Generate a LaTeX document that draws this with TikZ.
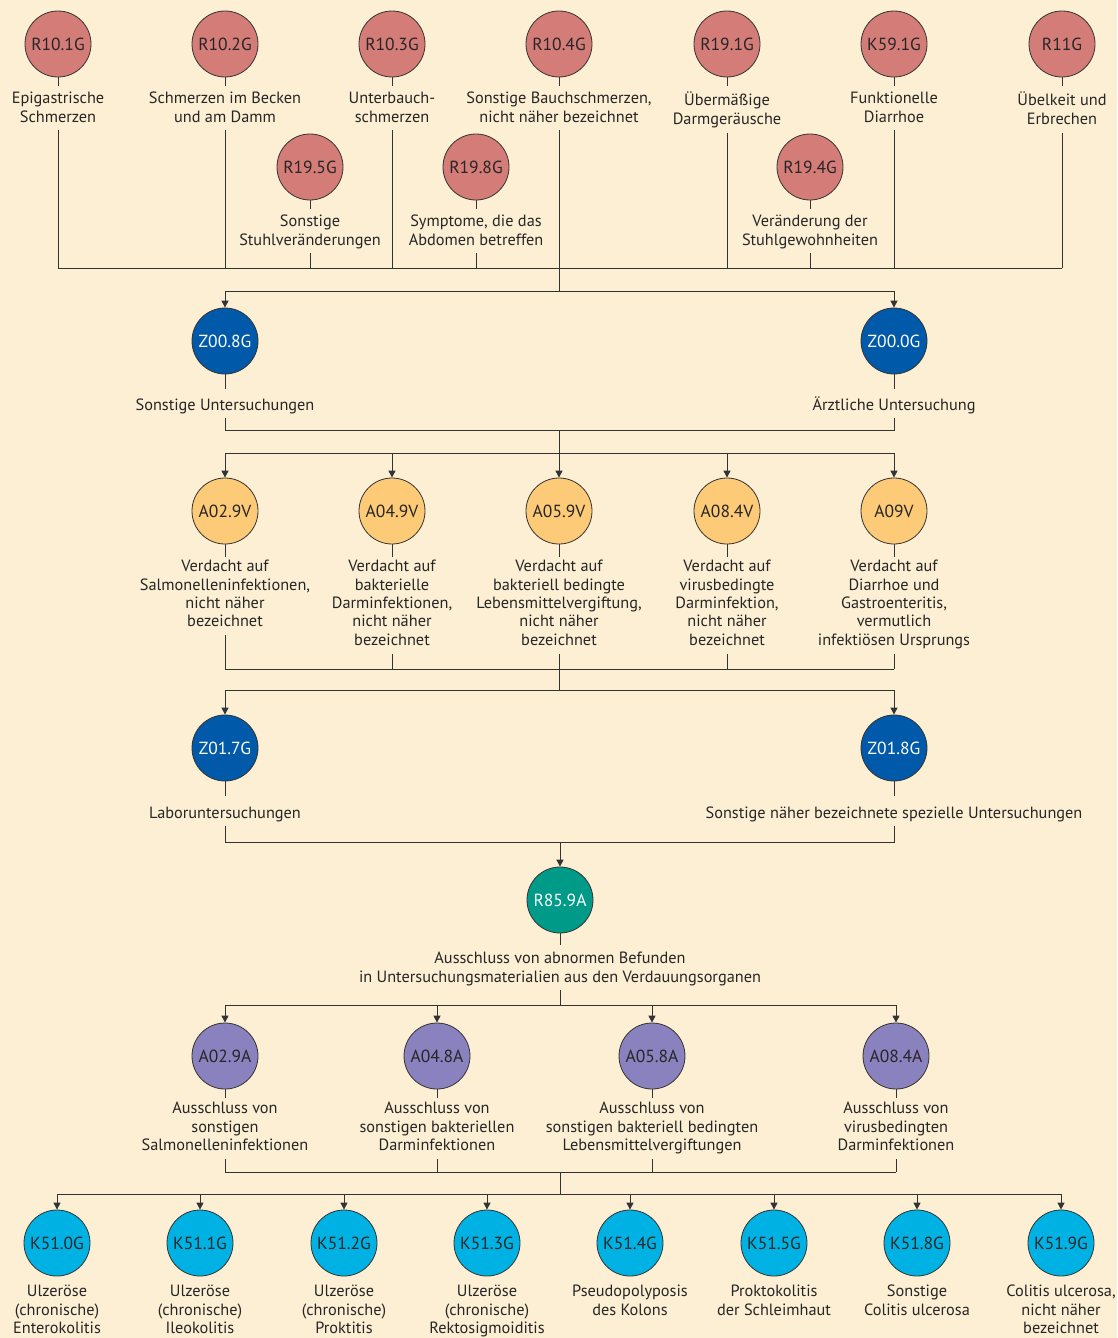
\documentclass[tikz,border=0pt]{standalone}
\usepackage{fontspec}
\setmainfont{PT Sans}
\usetikzlibrary{arrows.meta}
\definecolor{bg}{HTML}{FDEFD3}
\definecolor{linec}{HTML}{333333}
\definecolor{txt}{HTML}{262626}
\definecolor{cred}{HTML}{D47C78}
\definecolor{cblue}{HTML}{005AA9}
\definecolor{cyel}{HTML}{FDCA78}
\definecolor{cteal}{HTML}{009A88}
\definecolor{cpurp}{HTML}{8982BE}
\definecolor{ccyan}{HTML}{00B2E3}
\newcommand{\labfont}{\fontsize{16.3}{18.4}\selectfont}
\newcommand{\codefont}{\fontsize{17.5}{20}\selectfont}
\newcommand{\topstrut}{\rule{0pt}{16pt}}
\begin{document}
\begin{tikzpicture}[x=1pt,y=-1pt,
  code/.style={circle, draw=linec, line width=0.8pt, minimum size=66pt, inner sep=0pt, font=\codefont, text=txt},
  cR/.style={code, fill=cred},
  cB/.style={code, fill=cblue, text=white},
  cY/.style={code, fill=cyel},
  cT/.style={code, fill=cteal, text=white},
  cP/.style={code, fill=cpurp},
  cC/.style={code, fill=ccyan},
  lab/.style={align=center, anchor=north, inner xsep=0pt, inner ysep=2.5pt, font=\labfont, text=txt,
    execute at begin node=\topstrut, execute at end node=\strut},
  conn/.style={draw=linec, line width=1pt},
  arr/.style={conn, -{Triangle[width=7pt,length=7pt]}},
]
\fill[bg] (0,0) rectangle (1117,1338);
\useasboundingbox (0,0) rectangle (1117,1338);

% bus coordinates
\coordinate (b1) at (0,268);
\coordinate (b2) at (0,291);
\coordinate (b3) at (0,430);
\coordinate (b4) at (0,453);
\coordinate (b5) at (0,669);
\coordinate (b6) at (0,690);
\coordinate (b7) at (0,842);
\coordinate (b8) at (0,1005);
\coordinate (b9) at (0,1172);
\coordinate (b10) at (0,1194);

% ---------- row 1 ----------
\foreach \n/\x/\c/\t in {
  r1/58/R10.1G/{Epigastrische\\Schmerzen},
  r2/225/R10.2G/{Schmerzen im Becken\\und am Damm},
  r3/392/R10.3G/{Unterbauch-\\schmerzen},
  r4/559/R10.4G/{Sonstige Bauchschmerzen,\\nicht näher bezeichnet},
  r5/727/R19.1G/{Übermäßige\\Darmgeräusche},
  r6/894/K59.1G/{Funktionelle\\Diarrhoe},
  r7/1062/R11G/{Übelkeit und\\Erbrechen}}{
  \node[cR] (\n) at (\x,44) {\c};
  \node[lab] (\n l) at (\x,89.5) {\t};
  \draw[conn] (\n.south) -- ++(0,9);
}
\foreach \n/\x/\c/\t in {
  s1/310/R19.5G/{Sonstige\\Stuhlveränderungen},
  s2/476/R19.8G/{Symptome, die das\\Abdomen betreffen},
  s3/810/R19.4G/{Veränderung der\\Stuhlgewohnheiten}}{
  \node[cR] (\n) at (\x,167) {\c};
  \node[lab] (\n l) at (\x,212.5) {\t};
  \draw[conn] (\n.south) -- ++(0,9);
  \draw[conn] (\n l.south) -- (\n l.south |- b1);
}
\foreach \n in {r1,r2,r3,r5,r6,r7}{
  \draw[conn] (\n l.south) -- (\n l.south |- b1);
}
\draw[conn] (r1l.south |- b1) -- (r7l.south |- b1);
\draw[conn] (r4l.south) -- (r4l.south |- b2);

% ---------- Z00 ----------
\node[cB] (z1) at (225,341) {Z00.8G};
\node[cB] (z2) at (894,341) {Z00.0G};
\node[lab] (z1l) at (225,391.5) {Sonstige Untersuchungen};
\node[lab] (z2l) at (894,391.5) {Ärztliche Untersuchung};
\draw[conn] (z1 |- b2) -- (z2 |- b2);
\draw[arr] (z1 |- b2) -- (z1.north);
\draw[arr] (z2 |- b2) -- (z2.north);
\draw[conn] (z1.south) -- ++(0,15);
\draw[conn] (z2.south) -- ++(0,15);
\draw[conn] (z1l.south) -- (z1l.south |- b3) -- (z2l.south |- b3) -- (z2l.south);
\draw[conn] (r4l.south |- b3) -- (r4l.south |- b4);

% ---------- A..V ----------
\foreach \n/\x/\c/\t in {
  a1/225/A02.9V/{Verdacht auf\\Salmonelleninfektionen,\\nicht näher\\bezeichnet},
  a2/392/A04.9V/{Verdacht auf\\bakterielle\\Darminfektionen,\\nicht näher\\bezeichnet},
  a3/559/A05.9V/{Verdacht auf\\bakteriell bedingte\\Lebensmittelvergiftung,\\nicht näher\\bezeichnet},
  a4/727/A08.4V/{Verdacht auf\\virusbedingte\\Darminfektion,\\nicht näher\\bezeichnet},
  a5/894/A09V/{Verdacht auf\\Diarrhoe und\\Gastroenteritis,\\vermutlich\\infektiösen Ursprungs}}{
  \node[cY] (\n) at (\x,511) {\c};
  \node[lab] (\n l) at (\x,557.5) {\t};
  \draw[arr] (\n |- b4) -- (\n.north);
  \draw[conn] (\n.south) -- ++(0,13);
  \draw[conn] (\n l.south) -- (\n l.south |- b5);
}
\draw[conn] (a1 |- b4) -- (a5 |- b4);
\draw[conn] (a1 |- b5) -- (a5 |- b5);
\draw[conn] (a3 |- b5) -- (a3 |- b6);

% ---------- Z01 ----------
\node[cB] (y1) at (225,748) {Z01.7G};
\node[cB] (y2) at (894,748) {Z01.8G};
\node[lab] (y1l) at (225,799.5) {Laboruntersuchungen};
\node[lab] (y2l) at (894,799.5) {Sonstige näher bezeichnete spezielle Untersuchungen};
\draw[conn] (y1 |- b6) -- (y2 |- b6);
\draw[arr] (y1 |- b6) -- (y1.north);
\draw[arr] (y2 |- b6) -- (y2.north);
\draw[conn] (y1.south) -- ++(0,15);
\draw[conn] (y2.south) -- ++(0,15);
\draw[conn] (y1l.south) -- (y1l.south |- b7) -- (y2l.south |- b7) -- (y2l.south);

% ---------- R85.9A ----------
\node[cT] (t) at (560,900) {R85.9A};
\node[lab] (tl) at (560,949.5) {Ausschluss von abnormen Befunden\\in Untersuchungsmaterialien aus den Verdauungsorganen};
\draw[arr] (t |- b7) -- (t.north);
\draw[conn] (t.south) -- ++(0,12);
\draw[conn] (tl.south) -- (tl.south |- b8);

% ---------- A..A ----------
\foreach \n/\x/\c/\t in {
  p1/225/A02.9A/{Ausschluss von\\sonstigen\\Salmonelleninfektionen},
  p2/437/A04.8A/{Ausschluss von\\sonstigen bakteriellen\\Darminfektionen},
  p3/652/A05.8A/{Ausschluss von\\sonstigen bakteriell bedingten\\Lebensmittelvergiftungen},
  p4/896/A08.4A/{Ausschluss von\\virusbedingten\\Darminfektionen}}{
  \node[cP] (\n) at (\x,1056) {\c};
  \node[lab] (\n l) at (\x,1099.5) {\t};
  \draw[arr] (\n |- b8) -- (\n.north);
  \draw[conn] (\n.south) -- ++(0,9);
  \draw[conn] (\n l.south) -- (\n l.south |- b9);
}
\draw[conn] (p1 |- b8) -- (p4 |- b8);
\draw[conn] (p1 |- b9) -- (p4 |- b9);
\draw[conn] (tl.south |- b9) -- (tl.south |- b10);

% ---------- K51 ----------
\foreach \n/\x/\c/\t in {
  k1/57/K51.0G/{Ulzeröse\\(chronische)\\Enterokolitis},
  k2/200/K51.1G/{Ulzeröse\\(chronische)\\Ileokolitis},
  k3/344/K51.2G/{Ulzeröse\\(chronische)\\Proktitis},
  k4/487/K51.3G/{Ulzeröse\\(chronische)\\Rektosigmoiditis},
  k5/630/K51.4G/{Pseudopolyposis\\des Kolons},
  k6/774/K51.5G/{Proktokolitis\\der Schleimhaut},
  k7/917/K51.8G/{Sonstige\\Colitis ulcerosa},
  k8/1061/K51.9G/{Colitis ulcerosa,\\nicht näher\\bezeichnet}}{
  \node[cC] (\n) at (\x,1243) {\c};
  \node[lab] (\n l) at (\x,1282.5) {\t};
  \draw[arr] (\n |- b10) -- (\n.north);
}
\draw[conn] (k1 |- b10) -- (k8 |- b10);
\end{tikzpicture}
\end{document}
